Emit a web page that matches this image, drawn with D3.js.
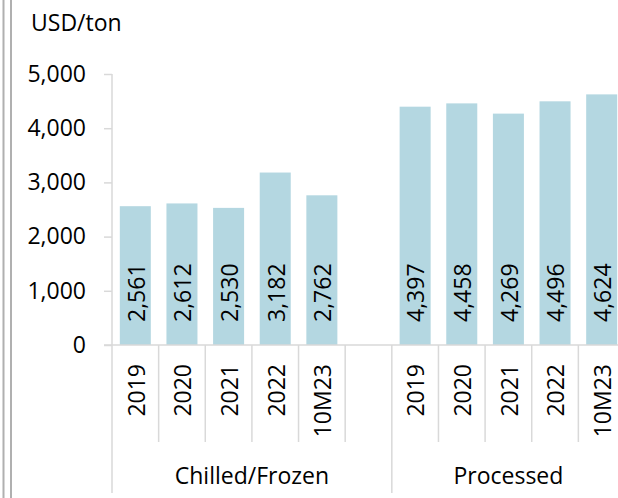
<!DOCTYPE html>
<html>
<head>
<meta charset="utf-8">
<script src="https://cdn.jsdelivr.net/npm/d3@7"></script>
<style>
  html, body { margin: 0; padding: 0; background: #fff; }
  svg { display: block; }
  text { font-family: "Open Sans", "Noto Sans", sans-serif; fill: #000; }
</style>
</head>
<body>
<script>
// ---- data ----
const groups = ["Chilled/Frozen", "Processed"];
const periods = ["2019", "2020", "2021", "2022", "10M23"];
const chilledValues = [2561, 2612, 2530, 3182, 2762];
const processedValues = [4397, 4458, 4269, 4496, 4624];
const yTicks = [0, 1000, 2000, 3000, 4000, 5000];
const unitLabel = "USD/ton";

// ---- layout ----
const W = 618, H = 498;
const plotLeft = 112, plotRight = 625, yTop = 74, yZero = 345;
const fontSize = 23;
const barColor = "#b4d7e1";
const gridColor = "#d9d9d9";

const svg = d3.select("body").append("svg").attr("width", W).attr("height", H);

// slots: group1 periods, gap, group2 periods
const rows = [];
periods.forEach((p, i) => rows.push({ key: groups[0] + "|" + p, group: groups[0], period: p, value: chilledValues[i] }));
rows.push({ key: "gap", group: groups[0], period: null, value: null });
periods.forEach((p, i) => rows.push({ key: groups[1] + "|" + p, group: groups[1], period: p, value: processedValues[i] }));

const x = d3.scaleBand()
  .domain(rows.map(d => d.key))
  .range([plotLeft, plotRight])
  .paddingInner(0.335)
  .paddingOuter(0.1675);

const y = d3.scaleLinear().domain([0, 5000]).range([yZero, yTop]);

const step = x.step();
const slotStart = k => x(k) - (step - x.bandwidth()) / 2;

// left double border
svg.append("line").attr("x1", 3.5).attr("x2", 3.5).attr("y1", 0).attr("y2", H)
  .attr("stroke", "#b0b0b0").attr("stroke-width", 2);
svg.append("line").attr("x1", 11).attr("x2", 11).attr("y1", 0).attr("y2", H)
  .attr("stroke", "#b0b0b0").attr("stroke-width", 2);

// unit label
svg.append("text").attr("x", 31).attr("y", 31)
  .style("font-size", fontSize + "px").text(unitLabel);

// y axis
const yAxis = svg.append("g").attr("transform", `translate(${plotLeft},0)`)
  .call(d3.axisLeft(y).tickValues(yTicks).tickSize(8).tickPadding(18)
    .tickFormat(d3.format(",")));
yAxis.select(".domain").attr("stroke", gridColor).attr("stroke-width", 1.5)
  .attr("d", `M0,${y(5000)}V${y(0)}`);
yAxis.selectAll(".tick line").attr("stroke", gridColor).attr("stroke-width", 1.5);
yAxis.selectAll(".tick text").style("font-size", fontSize + "px")
  .style("font-family", "'Open Sans', sans-serif").attr("fill", "#000");

// bars
const data = rows.filter(d => d.value != null);
svg.append("g").selectAll("rect").data(data).join("rect")
  .attr("x", d => x(d.key))
  .attr("width", x.bandwidth())
  .attr("y", d => y(d.value))
  .attr("height", d => y(0) - y(d.value))
  .attr("fill", barColor);

// bar labels (inside base, rotated)
svg.append("g").selectAll("text").data(data).join("text")
  .attr("transform", d => `translate(${x(d.key) + x.bandwidth() / 2 + 1},${y(0) - 23}) rotate(-90)`)
  .attr("dy", "0.36em")
  .attr("text-anchor", "start")
  .style("font-size", fontSize + "px")
  .text(d => d3.format(",")(d.value));

// x axis baseline
svg.append("line").attr("x1", plotLeft - 8).attr("x2", W).attr("y1", yZero).attr("y2", yZero)
  .attr("stroke", gridColor).attr("stroke-width", 1.5);

// dividers
const boundaries = rows.map((d, i) => ({ i, x: slotStart(d.key) }));
boundaries.push({ i: rows.length, x: slotStart(rows[rows.length - 1].key) + step });
const groupStartIdx = [0, rows.length, rows.findIndex(r => r.group === groups[1])];
svg.append("g").selectAll("line").data(boundaries).join("line")
  .attr("x1", d => d.x).attr("x2", d => d.x)
  .attr("y1", yZero)
  .attr("y2", d => groupStartIdx.includes(d.i) ? 493 : 442)
  .attr("stroke", gridColor).attr("stroke-width", 1.5);

// period labels (rotated)
svg.append("g").selectAll("text").data(data).join("text")
  .attr("transform", d => `translate(${x(d.key) + x.bandwidth() / 2 + 1},364) rotate(-90)`)
  .attr("dy", "0.36em")
  .attr("text-anchor", "end")
  .style("font-size", fontSize + "px")
  .text(d => d.period);

// group labels
groups.forEach(g => {
  const members = rows.filter(r => r.group === g);
  const x0 = slotStart(members[0].key);
  const x1 = slotStart(members[members.length - 1].key) + step;
  svg.append("text").attr("x", (x0 + x1) / 2).attr("y", 484)
    .attr("text-anchor", "middle").style("font-size", fontSize + "px").text(g);
});
</script>
</body>
</html>
